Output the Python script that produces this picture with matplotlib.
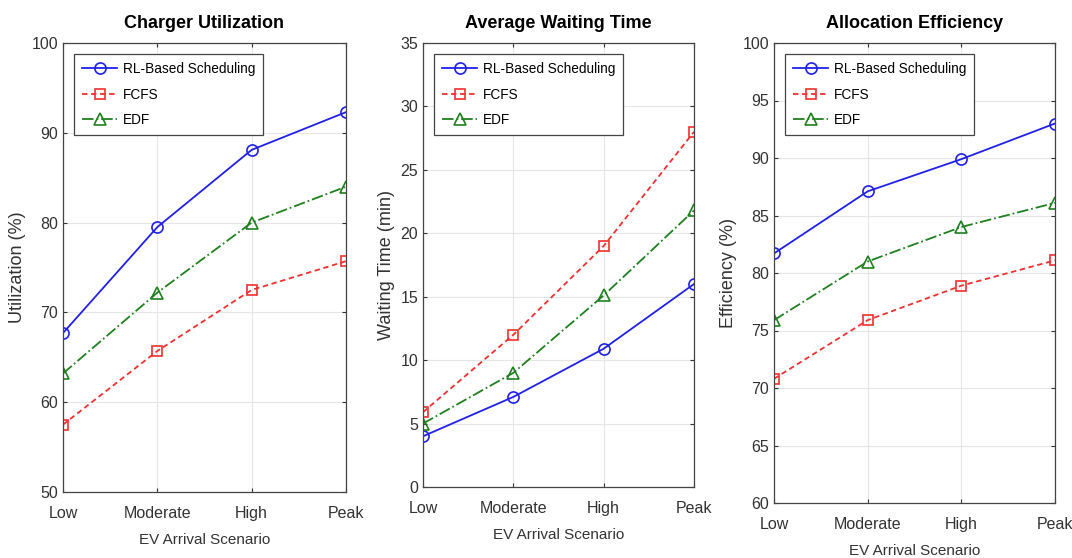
import numpy as np
import matplotlib.pyplot as plt

plt.rcParams["font.family"] = ["Liberation Sans", "DejaVu Sans"]

scenarios = ["Low", "Moderate", "High", "Peak"]

util_rl = [67.7, 79.5, 88.1, 92.3]
util_fcfs = [57.5, 65.7, 72.5, 75.7]
util_edf = [63.2, 72.2, 80.0, 84.0]

wait_rl = [4.0, 7.1, 10.9, 16.0]
wait_fcfs = [5.9, 12.0, 19.0, 28.0]
wait_edf = [5.0, 9.0, 15.1, 21.8]

eff_rl = [81.7, 87.1, 89.9, 93.0]
eff_fcfs = [70.8, 75.9, 78.9, 81.1]
eff_edf = [75.9, 81.0, 84.0, 86.1]

W, H = 1072, 558
fig = plt.figure(figsize=(W / 100, H / 100), dpi=100)


def box(l, t, r, b):
    return [l / W, 1 - b / H, (r - l) / W, (b - t) / H]


panels = [
    dict(pos=box(63, 43, 346, 492), title="Charger Utilization", ylabel="Utilization (%)",
         ylim=(50, 100), yticks=[50, 60, 70, 80, 90, 100],
         data=(util_rl, util_fcfs, util_edf)),
    dict(pos=box(423, 43, 694, 487), title="Average Waiting Time", ylabel="Waiting Time (min)",
         ylim=(0, 35), yticks=[0, 5, 10, 15, 20, 25, 30, 35],
         data=(wait_rl, wait_fcfs, wait_edf)),
    dict(pos=box(774, 43, 1055, 503), title="Allocation Efficiency", ylabel="Efficiency (%)",
         ylim=(60, 100), yticks=[60, 65, 70, 75, 80, 85, 90, 95, 100],
         data=(eff_rl, eff_fcfs, eff_edf)),
]

x = np.arange(len(scenarios))
for p in panels:
    ax = fig.add_axes(p["pos"])
    rl, fcfs, edf = p["data"]
    ax.plot(x, rl, "-o", color="#2020e8", lw=1.3, ms=8, mfc="none", mew=1.2,
            label="RL-Based Scheduling")
    ax.plot(x, fcfs, "--s", color="#f03030", lw=1.3, ms=7, mfc="none", mew=1.2,
            label="FCFS", dashes=(3, 2))
    ax.plot(x, edf, "-.^", color="#208020", lw=1.3, ms=8, mfc="none", mew=1.2,
            label="EDF")
    ax.set_xlim(0, 3)
    ax.set_ylim(*p["ylim"])
    ax.set_yticks(p["yticks"])
    ax.set_xticks(x)
    ax.set_xticklabels(scenarios)
    ax.grid(True, color="#e6e6e6", lw=0.8)
    ax.tick_params(direction="in", labelsize=11.5, colors="#333333", length=3, top=True, right=True)
    ax.tick_params(axis="x", pad=10)
    for s in ax.spines.values():
        s.set_color("#444444")
        s.set_linewidth(0.9)
    ax.set_title(p["title"], fontsize=13, fontweight="bold", pad=11)
    ax.set_ylabel(p["ylabel"], fontsize=13, color="#333333", labelpad=4)
    ax.set_xlabel("EV Arrival Scenario", fontsize=11, color="#333333", labelpad=9)
    leg = ax.legend(loc="upper left", fontsize=9.8, fancybox=False, framealpha=1,
                    edgecolor="#444444", borderaxespad=0.8, handlelength=2.6,
                    handletextpad=0.4, labelspacing=0.85, borderpad=0.6)
    leg.get_frame().set_linewidth(0.9)

fig.savefig("out.png", dpi=100, facecolor="white")
